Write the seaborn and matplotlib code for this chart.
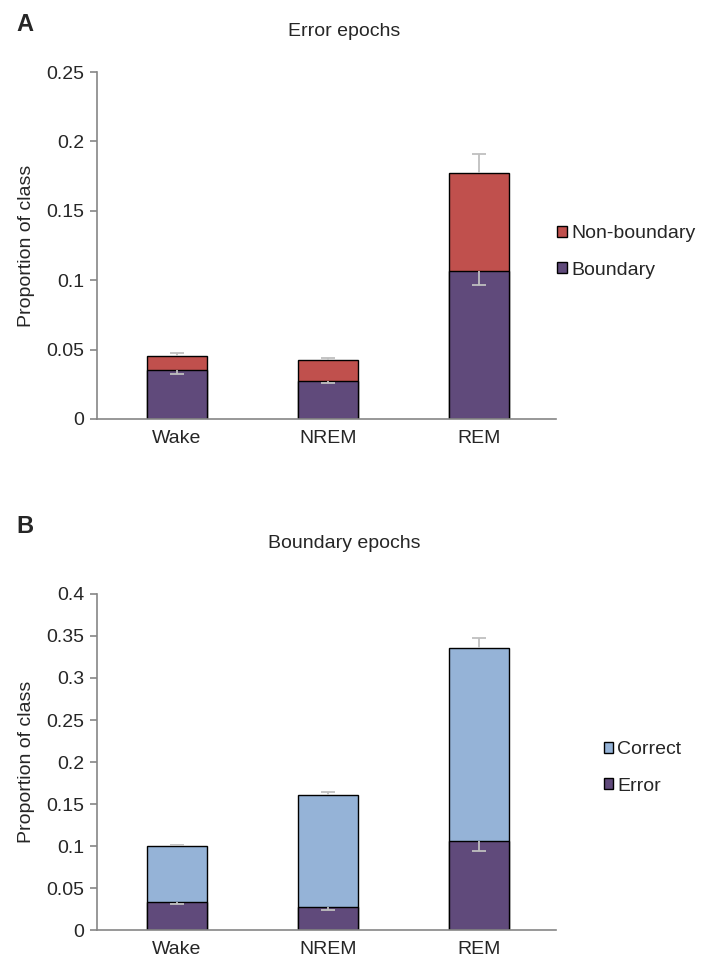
import numpy as np
import matplotlib
matplotlib.use('Agg')
import matplotlib.pyplot as plt
import seaborn as sns
from matplotlib.patches import Patch

# values
stages = ['Wake', 'NREM', 'REM']

# panel A: error epochs
boundary = [0.0356, 0.0275, 0.1068]
boundary_sem = [0.0033, 0.0019, 0.0104]
nonboundary = [0.0095, 0.0148, 0.0703]
error_total_sem = [0.0024, 0.0019, 0.0140]

# panel B: boundary epochs
err_part = [0.0338, 0.0279, 0.1067]
err_part_sem = [0.0020, 0.0040, 0.0130]
correct = [0.0665, 0.1331, 0.2293]
boundary_total_sem = [0.0012, 0.0034, 0.0115]

purple = '#604A7B'
red = '#C0504D'
lightblue = '#95B3D7'
errgray = '#BFBFBF'
axisgray = '#868686'

sns.set_style('ticks')
plt.rcParams['font.family'] = ['Liberation Sans', 'DejaVu Sans']
plt.rcParams['font.size'] = 14

fig = plt.figure(figsize=(7.03, 9.61), dpi=100)
axA = fig.add_axes([0.138, 0.564, 0.653, 0.361])
axB = fig.add_axes([0.138, 0.032, 0.653, 0.350])


def one_sided_err(ax, x, y, sem, direction):
    # error bar with a cap only at the far end (Excel style)
    end = y + direction * np.array(sem)
    ax.vlines(x, y, end, color=errgray, linewidth=1.3, zorder=5)
    ax.hlines(end, x - 0.045, x + 0.045, color=errgray, linewidth=1.3, zorder=5)


def stacked(ax, bottom, bottom_sem, top, top_sem, top_color, ymax, step):
    bottom = np.array(bottom)
    total = bottom + np.array(top)
    x = np.arange(len(stages))
    sns.barplot(x=stages, y=total, color=top_color, saturation=1, width=0.4,
                edgecolor='black', linewidth=1, errorbar=None, ax=ax)
    sns.barplot(x=stages, y=bottom, color=purple, saturation=1, width=0.4,
                edgecolor='black', linewidth=1, errorbar=None, ax=ax)
    one_sided_err(ax, x, total, top_sem, 1)
    one_sided_err(ax, x, bottom, bottom_sem, -1)
    ax.set_xlim(-0.53, 2.51)
    ax.set_ylim(0, ymax)
    ticks = np.arange(0, ymax + step / 2, step)
    ax.set_yticks(ticks)
    ax.set_yticklabels([f'{v:g}' for v in ticks])
    ax.set_ylabel('Proportion of class')
    ax.yaxis.set_label_coords(-0.135, 0.5)
    ax.set_xlabel('')
    sns.despine(ax=ax)
    for s in ['left', 'bottom']:
        ax.spines[s].set_color(axisgray)
        ax.spines[s].set_linewidth(1.2)
    ax.tick_params(axis='y', length=5, width=1.2, color=axisgray, pad=4)
    ax.tick_params(axis='x', length=0, pad=8)
    ax.tick_params(labelsize=14)


stacked(axA, boundary, boundary_sem, nonboundary, error_total_sem, red, 0.25, 0.05)
stacked(axB, err_part, err_part_sem, correct, boundary_total_sem, lightblue, 0.4, 0.05)

fig.text(0.49, 0.967, 'Error epochs', ha='center', va='center', fontsize=14)
fig.text(0.49, 0.434, 'Boundary epochs', ha='center', va='center', fontsize=14)
fig.text(0.035, 0.974, 'A', ha='center', va='center', fontsize=17, fontweight='bold')
fig.text(0.035, 0.452, 'B', ha='center', va='center', fontsize=17, fontweight='bold')

leg_kw = dict(frameon=False, handlelength=0.5, handleheight=0.5, handletextpad=0.2,
              labelspacing=1.0, borderpad=0, fontsize=14, loc='center left')
fig.legend(handles=[Patch(facecolor=red, edgecolor='black', label='Non-boundary'),
                    Patch(facecolor=purple, edgecolor='black', label='Boundary')],
           bbox_to_anchor=(0.779, 0.738), **leg_kw)
fig.legend(handles=[Patch(facecolor=lightblue, edgecolor='black', label='Correct'),
                    Patch(facecolor=purple, edgecolor='black', label='Error')],
           bbox_to_anchor=(0.845, 0.201), **leg_kw)

fig.savefig('out.png', dpi=100)
